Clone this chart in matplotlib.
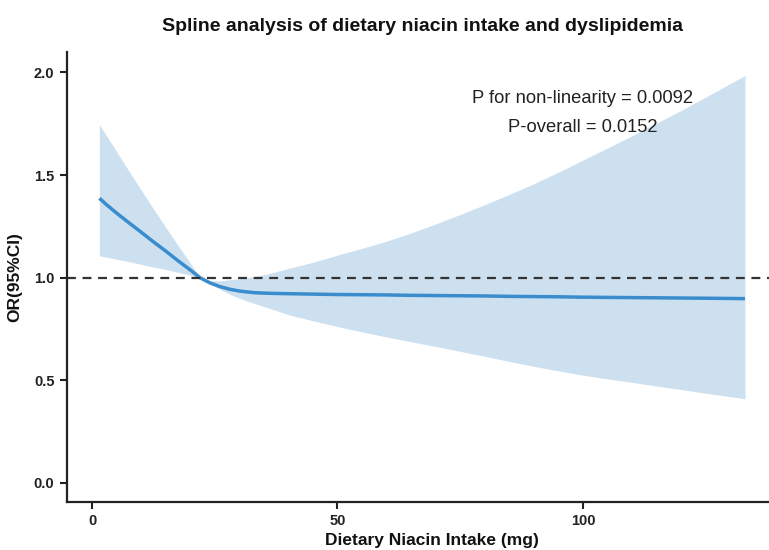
import matplotlib
matplotlib.use("Agg")
import matplotlib.pyplot as plt

# Data
niacin = [1.5, 3, 5, 7.5, 10, 12.5, 15, 17.5, 20, 22, 24, 26, 28, 30, 33, 36, 40,
          45, 50, 55, 60, 65, 70, 75, 80, 85, 90, 95, 100, 105, 110, 115, 120, 125, 133]
odds_ratio = [1.387, 1.355, 1.315, 1.268, 1.222, 1.175, 1.130, 1.083, 1.038, 1.000,
              0.975, 0.957, 0.944, 0.935, 0.927, 0.924, 0.922,
              0.920, 0.918, 0.917, 0.916, 0.914, 0.913, 0.912, 0.911, 0.909, 0.908,
              0.907, 0.905, 0.904, 0.903, 0.902, 0.901, 0.900, 0.898]
ci_upper = [1.746, 1.690, 1.615, 1.520, 1.428, 1.336, 1.246, 1.158, 1.072, 1.000,
            0.985, 0.985, 0.990, 0.995, 1.005, 1.020, 1.045,
            1.075, 1.110, 1.143, 1.178, 1.218, 1.262, 1.308, 1.356, 1.406, 1.458,
            1.514, 1.573, 1.632, 1.692, 1.753, 1.815, 1.880, 1.985]
ci_lower = [1.107, 1.100, 1.090, 1.078, 1.065, 1.052, 1.040, 1.026, 1.012, 1.000,
            0.972, 0.945, 0.920, 0.900, 0.875, 0.852, 0.820,
            0.790, 0.762, 0.736, 0.711, 0.688, 0.665, 0.641, 0.617, 0.592, 0.568,
            0.546, 0.525, 0.507, 0.490, 0.472, 0.455, 0.437, 0.410]

title = "Spline analysis of dietary niacin intake and dyslipidemia"
xlabel = "Dietary Niacin Intake (mg)"
ylabel = "OR(95%CI)"
p_nonlin = "P for non-linearity = 0.0092"
p_overall = "P-overall = 0.0152"
xticks = [0, 50, 100]
yticks = [0.0, 0.5, 1.0, 1.5, 2.0]

plt.rcParams['font.family'] = ['Liberation Sans', 'DejaVu Sans']

fig = plt.figure(figsize=(7.69, 5.5), dpi=100)
ax = fig.add_axes([0.0871, 0.0873, 0.9129, 0.8182])

ax.fill_between(niacin, ci_lower, ci_upper, color='#cce0f0', linewidth=0)
ax.plot(niacin, odds_ratio, color='#3a8ccc', linewidth=2.5, solid_capstyle='butt')
ax.axhline(1.0, color='#333333', linewidth=1.6, linestyle=(0, (4, 3)))

ax.set_xlim(-5.1, 137.9)
ax.set_ylim(-0.093, 2.10)
ax.set_xticks(xticks)
ax.set_xticklabels([str(t) for t in xticks])
ax.set_yticks(yticks)
ax.set_yticklabels([f"{t:.1f}" for t in yticks])

for s in ['top', 'right']:
    ax.spines[s].set_visible(False)
for s in ['left', 'bottom']:
    ax.spines[s].set_linewidth(1.6)
    ax.spines[s].set_color('#222222')
ax.tick_params(axis='both', direction='out', length=5, width=1.5, color='#222222',
               labelsize=10.5, labelcolor='#222222', pad=4)
for lab in ax.get_xticklabels() + ax.get_yticklabels():
    lab.set_fontweight('bold')

ax.set_xlabel(xlabel, fontsize=12.5, fontweight='bold', color='#111111')
ax.xaxis.set_label_coords(0.52, -0.068)
ax.set_ylabel(ylabel, fontsize=12.5, fontweight='bold', color='#111111', labelpad=8)
fig.suptitle(title, x=0.55, y=0.968, fontsize=14, fontweight='bold', color='#111111')

ax.text(100, 1.873, p_nonlin, ha='center', va='center', fontsize=13.2, color='#222222')
ax.text(100, 1.73, p_overall, ha='center', va='center', fontsize=13.2, color='#222222')

fig.savefig("out.png", dpi=100)
